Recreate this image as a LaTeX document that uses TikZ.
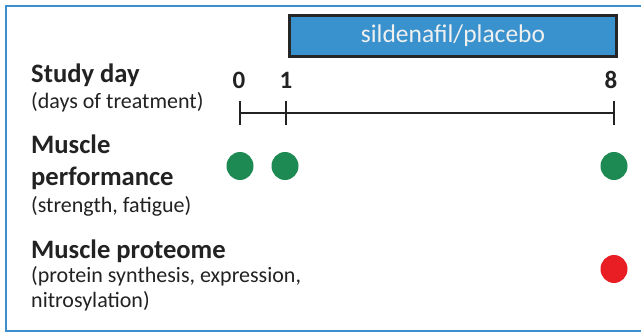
\documentclass[tikz,border=0pt]{standalone}
\usepackage{fontspec}
\setmainfont{Carlito}
\usetikzlibrary{shapes.geometric}
\definecolor{framec}{RGB}{60,143,208}
\definecolor{boxc}{RGB}{57,146,206}
\definecolor{dotg}{RGB}{28,138,82}
\definecolor{dotr}{RGB}{232,30,36}
\definecolor{txt}{RGB}{34,34,34}
\begin{document}
\begin{tikzpicture}[x=1pt,y=-1pt,
  head/.style={anchor=base west,inner sep=0pt,font=\fontsize{26.6}{30}\selectfont\bfseries,text=txt},
  sub/.style={anchor=base west,inner sep=0pt,font=\fontsize{22}{25}\selectfont,text=txt},
  digit/.style={anchor=base,inner sep=0pt,font=\fontsize{25}{30}\selectfont\bfseries,text=txt},
  dotstyle/.style={ellipse,minimum width=27pt,minimum height=28pt,inner sep=0pt,draw=none},
  tick/.style={line width=2pt,draw=txt}]
\useasboundingbox (0,0) rectangle (641,333);
\fill[white] (0,0) rectangle (641,333);
\draw[framec,line width=2pt] (641,6) -- (6,6) -- (6,331) -- (641,331);
% treatment box
\node[draw=black!85,line width=2.2pt,fill=boxc,minimum width=327pt,minimum height=41pt,inner sep=0pt,
  text=white!94!black,font=\fontsize{25.5}{28}\selectfont] (box) at (453,36) {sildenafil/placebo};
% labels
\node[head] (sd) at (31,82) {Study day};
\node[sub] (sdsub) at (31,108) {(days of treatment)};
\node[head] (mp1) at (31,153) {Muscle};
\node[head] (mp2) at (31,185) {performance};
\node[sub] (mpsub) at (31,212) {(strength, fatigue)};
\node[head] (pr1) at (31,258) {Muscle proteome};
\node[sub] (prsub1) at (31,282) {(protein synthesis, expression,};
\node[sub] (prsub2) at (31,307) {nitrosylation)};
% digits
\node[digit] (d0) at (239,88) {0};
\node[digit] (d1) at (286,88) {1};
\node[digit] (d8) at (611,88) {8};
% timeline
\coordinate (t0) at (240,113);
\coordinate (t1) at (286,113);
\coordinate (t8) at (614,113);
\draw[tick] (t0) -- (t8);
\foreach \t in {t0,t1,t8} \draw[tick] ([yshift=12pt]\t) -- ([yshift=-12pt]\t);
% dots
\node[dotstyle,fill=dotg] (g0) at (240,166) {};
\node[dotstyle,fill=dotg] (g1) at (285,166) {};
\node[dotstyle,fill=dotg] (g8) at (614,166) {};
\node[dotstyle,fill=dotr] (r8) at (614,269) {};
\end{tikzpicture}
\end{document}
